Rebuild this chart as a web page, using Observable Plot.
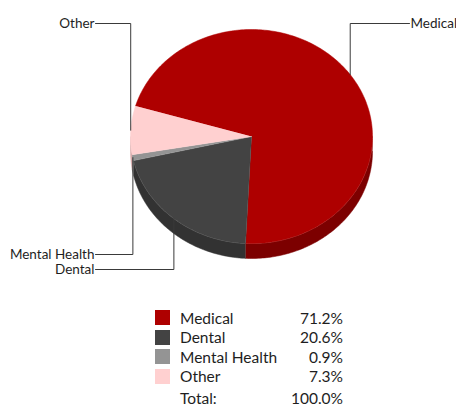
<!DOCTYPE html>
<html><head><meta charset="utf-8">
<script src="https://cdn.jsdelivr.net/npm/d3@7"></script>
<script src="https://cdn.jsdelivr.net/npm/@observablehq/plot@0.6"></script>
<style>
body{margin:0;background:#fff;font-family:Lato,"Open Sans",sans-serif;}
#wrap{position:relative;width:456px;height:408px;overflow:hidden;}
#chart{position:absolute;left:0;top:0;}
#legend{position:absolute;left:155px;top:308px;width:188px;font-size:15.5px;color:#1e1e1e;}
.row{display:flex;align-items:center;height:19.5px;}
.sw{width:15px;height:15px;margin-right:10px;flex:none;}
.lab{flex:1;white-space:nowrap;}
.val{text-align:right;}
.total{margin-top:2.5px;}
.total .sw{visibility:hidden;}
</style></head><body>
<div id="wrap"><div id="chart"></div><div id="legend"></div></div>
<script>
// ---- data ----
const categories = ["Medical", "Dental", "Mental Health", "Other"];
const values = [71.2, 20.6, 0.9, 7.3];
const topColors = ["#ae0000", "#434343", "#949494", "#ffd0d0"];
const sideColors = ["#7c0000", "#323232", "#6c6c6c", "#d8a8a8"];
const totalLabel = "Total:";

// ---- layout ----
const W = 456, H = 290;
const cx = 251, cy = 136, rx = 121, ry = 107, depthPx = 15;
const startDeg = -73.5;
const depth = depthPx / ry;
const rad = d => d * Math.PI / 180;
const pt = (deg, dy = 0) => ({x: Math.sin(rad(deg)), y: -Math.cos(rad(deg)) + dy});
function arc(a0, a1, dy = 0) {
  const n = Math.max(2, Math.ceil(Math.abs(a1 - a0)));
  const out = [];
  for (let i = 0; i <= n; i++) out.push(pt(a0 + (a1 - a0) * i / n, dy));
  return out;
}
const total = d3.sum(values);
let acc = startDeg;
const slices = categories.map((c, i) => {
  const a0 = acc, a1 = acc + values[i] / total * 360;
  acc = a1;
  return {c, i, a0, a1, mid: (a0 + a1) / 2};
});

const tops = [], sides = [], edges = [];
slices.forEach(s => {
  [{x: 0, y: 0}, ...arc(s.a0, s.a1)].forEach(p => tops.push({...p, k: s.c, fill: topColors[s.i]}));
  for (const k of [-360, 0, 360]) {
    const lo = Math.max(s.a0, 90 + k), hi = Math.min(s.a1, 270 + k);
    if (hi > lo) {
      const key = s.c + k;
      [...arc(lo, hi, 0), ...arc(hi, lo, depth)].forEach(p => sides.push({...p, k: key, fill: sideColors[s.i]}));
      arc(lo, hi, 0).forEach(p => edges.push({...p, k: key}));
    }
  }
});

// leaders and labels
const leaders = [], labels = [];
const mids = slices.map(s => ({...s, m: pt(s.mid)}));
const topOnes = mids.filter(s => s.m.y < 0);
const botOnes = mids.filter(s => s.m.y >= 0).sort((a, b) => a.m.x - b.m.x);
function addLabel(s, ly) {
  const right = s.m.x > 0;
  const lx = right ? 1 + 37 / rx : -1 - 35 / rx;
  [s.m, {x: s.m.x, y: ly}, {x: lx, y: ly}].forEach(p => leaders.push({...p, k: s.c}));
  labels.push({x: lx, y: ly, text: s.c, right});
}
topOnes.forEach(s => addLabel(s, -1 - 6 / ry));
botOnes.forEach((s, j) => addLabel(s, 1 + (11 + 15 * j) / ry));

const chart = Plot.plot({
  width: W, height: H, margin: 0,
  x: {domain: [-cx / rx, (W - cx) / rx], range: [0, W], axis: null},
  y: {domain: [-cy / ry, (H - cy) / ry], range: [0, H], axis: null},
  color: {type: "identity"},
  style: {fontFamily: "Lato, 'Open Sans', sans-serif"},
  marks: [
    Plot.line(sides, {x: "x", y: "y", z: "k", fill: "fill", stroke: "fill", strokeWidth: 0.5, curve: "linear"}),
    Plot.line(edges, {x: "x", y: "y", z: "k", stroke: "#ffffff", strokeOpacity: 0.25, strokeWidth: 0.8}),
    Plot.line(tops, {x: "x", y: "y", z: "k", fill: "fill", stroke: "fill", strokeWidth: 0.5, curve: "linear"}),
    Plot.line(leaders, {x: "x", y: "y", z: "k", stroke: "#3a3a3a", strokeWidth: 1}),
    Plot.text(labels.filter(d => !d.right), {x: "x", y: "y", text: "text", textAnchor: "end", dx: -1, fontSize: 13.5, fill: "#1e1e1e"}),
    Plot.text(labels.filter(d => d.right), {x: "x", y: "y", text: "text", textAnchor: "start", dx: 1, fontSize: 13.5, fill: "#1e1e1e"})
  ]
});
document.getElementById("chart").appendChild(chart);

// legend
const fmt = d3.format(".1f");
const legend = d3.select("#legend");
categories.forEach((c, i) => {
  const r = legend.append("div").attr("class", "row");
  r.append("div").attr("class", "sw").style("background", topColors[i]);
  r.append("div").attr("class", "lab").text(c);
  r.append("div").attr("class", "val").text(fmt(values[i]) + "%");
});
const tr = legend.append("div").attr("class", "row total");
tr.append("div").attr("class", "sw");
tr.append("div").attr("class", "lab").text(totalLabel);
tr.append("div").attr("class", "val").text(fmt(total) + "%");
</script>
</body></html>
